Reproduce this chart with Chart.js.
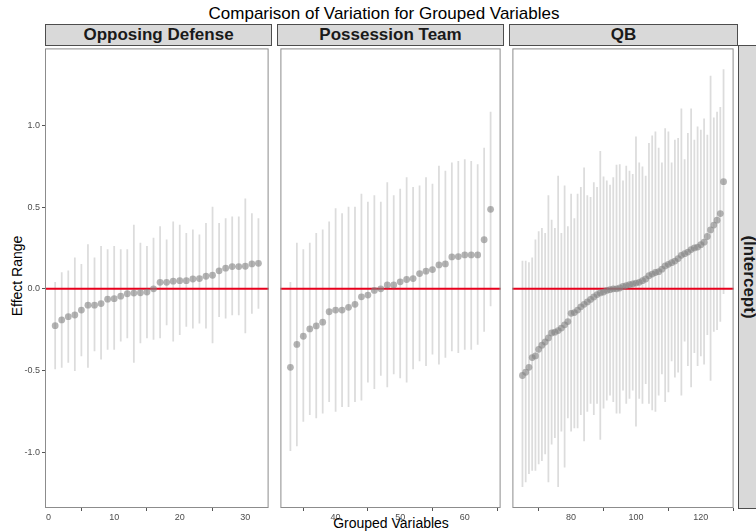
<!DOCTYPE html>
<html>
<head>
<meta charset="utf-8">
<script src="https://cdn.jsdelivr.net/npm/chart.js@4.4.0/dist/chart.umd.min.js"></script>
<style>
  body { margin: 0; background: #fff; font-family: "Liberation Sans", Arial, sans-serif; }
  #wrap { position: relative; width: 756px; height: 532px; overflow: hidden; }
  .panel { position: absolute; top: 45px; height: 488px; }
  .strip { position: absolute; top: 24px; height: 22px; background: #d9d9d9; border: 1px solid #4d4d4d;
           box-sizing: border-box; font-weight: bold; font-size: 17px; line-height: 20px; color: #1a1a1a; text-align: center; }
  #rstrip { position: absolute; left: 738px; top: 45px; width: 22px; height: 464px; background: #d9d9d9;
            border: 1px solid #4d4d4d; box-sizing: border-box; }
  #rstrip span { position: absolute; left: 50%; top: 50%; transform: translate(-50%, -50%) rotate(90deg);
                 font-weight: bold; font-size: 17px; color: #1a1a1a; white-space: nowrap; }
  .title { position: absolute; font-size: 17px; color: #000; white-space: nowrap; transform: translateX(-50%); }
  .ytitle { position: absolute; left: 17px; top: 276px; font-size: 14px; white-space: nowrap;
            transform: translate(-50%, -50%) rotate(-90deg); }
</style>
</head>
<body>
<div id="wrap">
  <div class="title" style="left:384px; top:4px;">Comparison of Variation for Grouped Variables</div>
  <div class="strip" style="left:45px; width:227px;">Opposing Defense</div>
  <div class="strip" style="left:277px; width:227px;">Possession Team</div>
  <div class="strip" style="left:509px; width:229px;">QB</div>
  <div id="rstrip"><span>(Intercept)</span></div>
  <div class="ytitle">Effect Range</div>
  <div class="title" style="left:391px; top:515px; font-size:14px;">Grouped Variables</div>
  <div class="panel" style="left:0px;"><canvas id="c1" width="272" height="488"></canvas></div>
  <div class="panel" style="left:277px;"><canvas id="c2" width="227" height="488"></canvas></div>
  <div class="panel" style="left:509px;"><canvas id="c3" width="228" height="488"></canvas></div>
</div>
<script>
// grouped variable estimates with their intervals

// Opposing Defense: x = 1..32
const defenseStart = 1;
const defenseEst = [-0.225, -0.19, -0.17, -0.16, -0.13, -0.10, -0.10, -0.09, -0.063, -0.06, -0.045, -0.03, -0.026, -0.024, -0.02, 0.0,
  0.04, 0.04, 0.047, 0.05, 0.05, 0.06, 0.063, 0.077, 0.083, 0.11, 0.126, 0.136, 0.136, 0.138, 0.152, 0.156];
const defenseLow = [-0.49, -0.48, -0.45, -0.50, -0.41, -0.48, -0.38, -0.43, -0.37, -0.37, -0.32, -0.30, -0.45, -0.33, -0.30, -0.31,
  -0.30, -0.22, -0.32, -0.28, -0.23, -0.24, -0.21, -0.24, -0.33, -0.17, -0.18, -0.16, -0.16, -0.27, -0.15, -0.12];
const defenseHigh = [0.04, 0.10, 0.11, 0.19, 0.15, 0.27, 0.19, 0.26, 0.24, 0.26, 0.24, 0.24, 0.39, 0.28, 0.26, 0.31,
  0.38, 0.30, 0.41, 0.39, 0.34, 0.36, 0.33, 0.40, 0.50, 0.40, 0.43, 0.44, 0.44, 0.55, 0.46, 0.43];

// Possession Team: x = 33..64
const possStart = 33;
const possEst = [-0.48, -0.34, -0.29, -0.245, -0.227, -0.204, -0.14, -0.13, -0.13, -0.113, -0.095, -0.049, -0.038, -0.01, 0.0,
  0.024, 0.024, 0.043, 0.057, 0.063, 0.093, 0.108, 0.118, 0.146, 0.152, 0.195, 0.197, 0.207, 0.207, 0.207, 0.30, 0.486];
const possLow = [-0.99, -0.96, -0.81, -0.77, -0.79, -0.76, -0.69, -0.75, -0.72, -0.72, -0.69, -0.68, -0.57, -0.61, -0.53,
  -0.60, -0.52, -0.545, -0.57, -0.49, -0.44, -0.47, -0.40, -0.46, -0.42, -0.38, -0.39, -0.37, -0.37, -0.34, -0.26, -0.105];
const possHigh = [0.04, 0.28, 0.24, 0.28, 0.34, 0.36, 0.41, 0.49, 0.46, 0.50, 0.50, 0.58, 0.53, 0.57, 0.53,
  0.65, 0.57, 0.61, 0.68, 0.62, 0.63, 0.68, 0.64, 0.75, 0.72, 0.77, 0.78, 0.79, 0.78, 0.76, 0.86, 1.08];

// QB: x = 65..127
const qbStart = 65;
const qbEst = [-0.53, -0.51, -0.48, -0.42, -0.41, -0.37, -0.345, -0.325, -0.30, -0.27, -0.265, -0.255, -0.24, -0.22, -0.20,
  -0.15, -0.145, -0.13, -0.11, -0.095, -0.08, -0.065, -0.05, -0.035, -0.025, -0.02, -0.01, -0.005, 0.0, 0.0,
  0.005, 0.015, 0.02, 0.025, 0.03, 0.035, 0.04, 0.05, 0.06, 0.08, 0.09, 0.10, 0.105, 0.12, 0.14,
  0.15, 0.16, 0.17, 0.185, 0.205, 0.215, 0.225, 0.24, 0.25, 0.255, 0.27, 0.285, 0.32, 0.36, 0.39,
  0.42, 0.46, 0.655];
const qbLow = [-1.21, -1.18, -1.13, -1.11, -1.11, -1.07, -1.05, -1.01, -1.18, -0.95, -0.91, -1.21, -0.87, -1.09, -0.79,
  -0.87, -0.85, -0.85, -0.77, -0.93, -0.75, -0.70, -0.77, -0.70, -0.92, -0.73, -0.68, -0.65, -0.69, -0.76,
  -0.76, -0.62, -0.70, -0.67, -0.62, -0.84, -0.67, -0.70, -0.58, -0.70, -0.74, -0.75, -0.65, -0.52, -0.69,
  -0.63, -0.44, -0.54, -0.51, -0.65, -0.32, -0.47, -0.60, -0.39, -0.47, -0.41, -0.46, -0.28, -0.56, -0.26,
  -0.25, -0.20, -0.03];
const qbHigh = [0.17, 0.17, 0.16, 0.19, 0.30, 0.35, 0.37, 0.34, 0.57, 0.42, 0.37, 0.69, 0.34, 0.63, 0.38,
  0.58, 0.43, 0.58, 0.62, 0.74, 0.57, 0.56, 0.65, 0.62, 0.84, 0.685, 0.66, 0.635, 0.68, 0.756,
  0.76, 0.66, 0.75, 0.72, 0.70, 0.93, 0.77, 0.746, 0.69, 0.89, 0.935, 0.96, 0.86, 0.77, 0.98,
  0.96, 0.77, 0.91, 0.92, 1.10, 0.79, 0.95, 1.10, 0.91, 0.99, 0.97, 1.04, 0.94, 1.30, 1.045,
  1.08, 1.11, 1.34];

// axes
const yMin = -1.34, yMax = 1.47;
const yTicks = [-1.0, -0.5, 0.0, 0.5, 1.0];
const defenseXRange = [-0.55, 33.55], defenseXTicks = [0, 10, 20, 30];
const possXRange = [31.45, 65.55], possXTicks = [40, 50, 60];
const qbXRange = [61.9, 130.1], qbXTicks = [80, 100, 120];
const zeroLine = 0;

const tickFont = { family: '"Liberation Sans", Arial, sans-serif', size: 9 };

// red reference line drawn over the interval bars, panel frame on top
const panelDecor = {
    id: 'panelDecor',
    afterDatasetDraw(chart, args) {
        if (args.index !== 1) return;
        const { ctx, chartArea: a, scales: { y } } = chart;
        const py = y.getPixelForValue(zeroLine);
        ctx.save();
        ctx.strokeStyle = '#e8001c';
        ctx.lineWidth = 2;
        ctx.beginPath();
        ctx.moveTo(a.left, py);
        ctx.lineTo(a.right, py);
        ctx.stroke();
        ctx.restore();
    },
    afterDraw(chart) {
        const { ctx, chartArea: a } = chart;
        ctx.save();
        ctx.strokeStyle = '#8c8c8c';
        ctx.lineWidth = 1;
        ctx.strokeRect(a.left + 0.5, a.top + 0.5, a.width - 1, a.height - 1);
        ctx.restore();
    }
};

function noPad(s) {
    s.paddingTop = 0; s.paddingBottom = 0; s.paddingLeft = 0; s.paddingRight = 0;
}

function makePanel(id, start, est, low, high, xRange, xTicks, showY) {
    const xs = est.map((_, i) => start + i);
    return new Chart(document.getElementById(id), {
        type: 'bar',
        data: {
            datasets: [{
                type: 'scatter',
                data: xs.map((x, i) => ({ x: x, y: est[i] })),
                backgroundColor: 'rgba(130, 130, 130, 0.6)',
                borderWidth: 0,
                pointRadius: 3.4,
                pointHoverRadius: 3.4
            }, {
                type: 'bar',
                data: xs.map((x, i) => ({ x: x, y: [low[i], high[i]] })),
                backgroundColor: '#dcdcdc',
                borderWidth: 0,
                barThickness: 1.1,
                grouped: false
            }]
        },
        options: {
            responsive: false,
            animation: false,
            events: [],
            layout: { padding: 0 },
            plugins: {
                legend: { display: false },
                tooltip: { enabled: false }
            },
            scales: {
                x: {
                    type: 'linear',
                    offset: false,
                    min: xRange[0],
                    max: xRange[1],
                    afterBuildTicks: s => { s.ticks = xTicks.map(v => ({ value: v })); },
                    afterFit: s => { s.height = 25; noPad(s); },
                    ticks: { font: tickFont, color: '#4d4d4d', padding: 1, maxRotation: 0 },
                    grid: { drawOnChartArea: false, drawTicks: true, tickLength: 3, color: '#555' },
                    border: { display: false }
                },
                y: {
                    display: showY,
                    min: yMin,
                    max: yMax,
                    afterBuildTicks: s => { s.ticks = yTicks.map(v => ({ value: v })); },
                    afterFit: s => { s.width = showY ? 45 : 0; noPad(s); },
                    ticks: { font: tickFont, color: '#4d4d4d', padding: 2, callback: v => v.toFixed(1) },
                    grid: { drawOnChartArea: false, drawTicks: true, tickLength: 3, color: '#555' },
                    border: { display: false }
                }
            }
        },
        plugins: [panelDecor]
    });
}

makePanel('c1', defenseStart, defenseEst, defenseLow, defenseHigh, defenseXRange, defenseXTicks, true);
makePanel('c2', possStart, possEst, possLow, possHigh, possXRange, possXTicks, false);
makePanel('c3', qbStart, qbEst, qbLow, qbHigh, qbXRange, qbXTicks, false);
</script>
</body>
</html>
